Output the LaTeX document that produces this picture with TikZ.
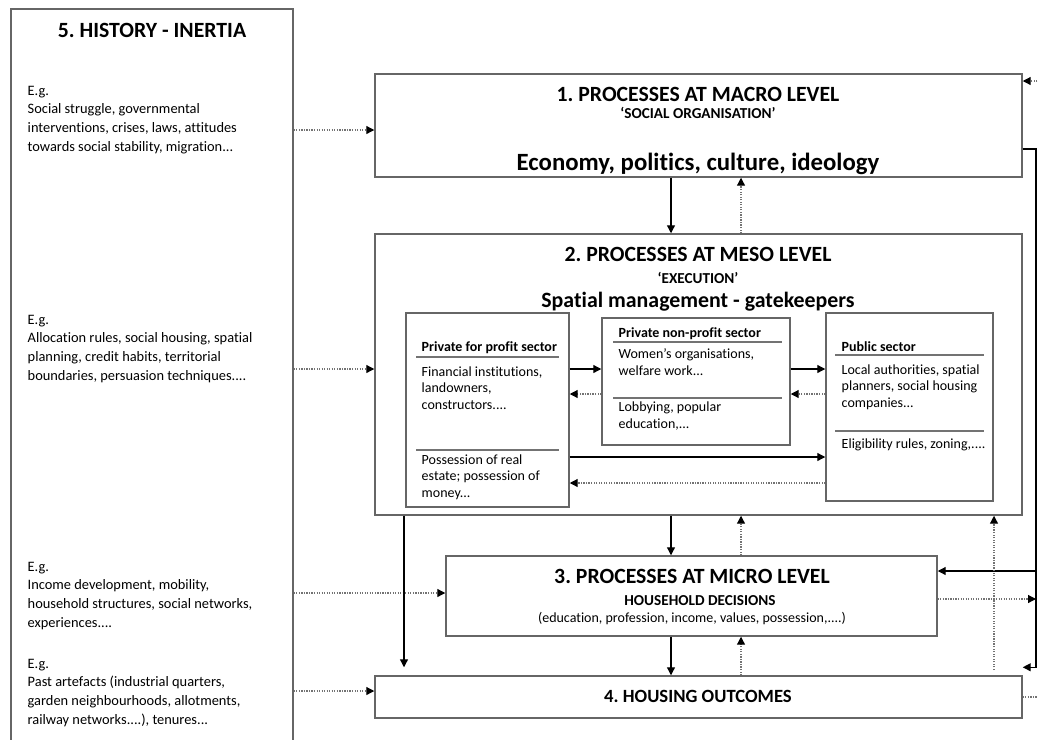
\documentclass[tikz,border=0pt]{standalone}
\usepackage{fontspec}
\setmainfont[Ligatures={TeX,NoCommon}]{Carlito}
\frenchspacing
\usetikzlibrary{arrows.meta,fit,positioning}

\begin{document}
\begin{tikzpicture}[x=0.75pt,y=-0.75pt,
    box/.style={draw=black!60, line width=1.1pt, inner sep=0pt},
    rule/.style={draw=black!55, line width=1.1pt},
    solidarr/.style={draw=black, line width=0.9pt, -{Triangle[length=6pt,width=6pt]}},
    dotarr/.style={draw=black!55, line width=0.9pt, densely dotted, -{Triangle[length=6pt,width=6pt,black]}},
    dotline/.style={draw=black!55, line width=0.9pt, densely dotted},
    head/.style={anchor=base, font=\bfseries\fontsize{16.3}{19}\selectfont},
    sub/.style={anchor=base, font=\bfseries\fontsize{11.4}{13}\selectfont},
    eg/.style={anchor=base west, align=left, font=\fontsize{10.8}{14}\selectfont},
    sechead/.style={anchor=base west, font=\bfseries\fontsize{10.5}{12}\selectfont},
    sectxt/.style={anchor=base west, align=left, font=\fontsize{10.5}{12.2}\selectfont}]
  \useasboundingbox (0,0) rectangle (1038,739);

  % history column (multi-line texts sit on their last line)
  \node[box, fit={(11,9)(293,760)}] (hist) {};
  \node[head] (histT) at (152,37) {5. HISTORY - INERTIA};
  \node[eg] (eg1) at (23,151) {E.g.\\Social struggle, governmental\\interventions, crises, laws, attitudes\\towards social stability, migration...};
  \node[eg] (eg2) at (23,380) {E.g.\\Allocation rules, social housing, spatial\\planning, credit habits, territorial\\boundaries, persuasion techniques....};
  \node[eg] (eg3) at (23,627) {E.g.\\Income development, mobility,\\household structures, social networks,\\experiences....};
  \node[eg] (eg4) at (23,724) {E.g.\\Past artefacts (industrial quarters,\\garden neighbourhoods, allotments,\\railway networks....), tenures...};

  % levels
  \node[box, fit={(375,74)(1022,177)}] (macro) {};
  \node[head] (macroT) at (698,101) {1. PROCESSES AT MACRO LEVEL};
  \node[sub] (macroS) at (698,118) {`SOCIAL ORGANISATION'};
  \node[anchor=base, font=\bfseries\fontsize{18.6}{22}\selectfont] (macroE) at (698,170) {Economy, politics, culture, ideology};

  \node[box, fit={(375,234)(1022,515)}] (meso) {};
  \node[head] (mesoT) at (698,261) {2. PROCESSES AT MESO LEVEL};
  \node[sub] (mesoS) at (698,283) {`EXECUTION'};
  \node[anchor=base, font=\bfseries\fontsize{16.4}{19}\selectfont] (mesoE) at (698,307) {Spatial management - gatekeepers};

  \node[box, fit={(446,556)(937,636)}] (micro) {};
  \node[head] (microT) at (692,583) {3. PROCESSES AT MICRO LEVEL};
  \node[sub] (microS) at (700,605) {HOUSEHOLD DECISIONS};
  \node[anchor=base, font=\fontsize{10.5}{12}\selectfont] (microE) at (692,622) {(education, profession, income, values, possession,....)};

  \node[box, fit={(375,676)(1022,718)}] (housing) {};
  \node[anchor=base, font=\bfseries\fontsize{14}{17}\selectfont] (housingT) at (698,702) {4. HOUSING OUTCOMES};

  % sectors
  \node[box, fit={(406,313)(569,507)}] (pfp) {};
  \draw[rule] (416,357) -- (559,357);
  \draw[rule] (416,450) -- (559,450);
  \node[sechead] (pfpH) at (417,351) {Private for profit sector};
  \node[sectxt] (pfpA) at (417,409) {Financial institutions,\\landowners,\\constructors....};
  \node[sectxt] (pfpB) at (417,497) {Possession of real\\estate; possession of\\money...};

  \node[box, fit={(602,318)(790,445)}] (pnp) {};
  \draw[rule] (613,342) -- (782,342);
  \draw[rule] (613,398) -- (782,398);
  \node[sechead] (pnpH) at (614,337) {Private non-profit sector};
  \node[sectxt] (pnpA) at (614,375) {Women's organisations,\\welfare work...};
  \node[sectxt] (pnpB) at (614,428) {Lobbying, popular\\education,...};

  \node[box, fit={(826,313)(993,501)}] (pub) {};
  \draw[rule] (835,355) -- (984,355);
  \draw[rule] (835,431) -- (984,431);
  \node[sechead] (pubH) at (837,351) {Public sector};
  \node[sectxt] (pubA) at (837,407) {Local authorities, spatial\\planners, social housing\\companies...};
  \node[sectxt] (pubB) at (837,448) {Eligibility rules, zoning,....};

  % helper levels
  \coordinate (h1) at (0,130);
  \coordinate (ya) at (0,369);
  \coordinate (yb) at (0,394);
  \coordinate (yc) at (0,457);
  \coordinate (yd) at (0,483);
  \coordinate (h3) at (0,593);
  \coordinate (h4) at (0,691);
  \coordinate (cdown) at (671,0);
  \coordinate (cup) at (741,0);
  \coordinate (lx) at (404,0);
  \coordinate (rail) at (1036,149);
  \coordinate (r3) at (0,571);
  \coordinate (r4) at (0,599);
  \coordinate (intop) at (1040,81);
  \coordinate (pubup) at (994,670);

  % history inputs
  \draw[dotarr] (hist.east |- h1) -- (macro.west |- h1);
  \draw[dotarr] (hist.east |- ya) -- (meso.west |- ya);
  \draw[dotarr] (hist.east |- h3) -- (micro.west |- h3);
  \draw[dotarr] (hist.east |- h4) -- (housing.west |- h4);

  % between levels
  \draw[solidarr] (macro.south -| cdown) -- (meso.north -| cdown);
  \draw[dotarr] (meso.north -| cup) -- (macro.south -| cup);
  \draw[solidarr] (meso.south -| cdown) -- (micro.north -| cdown);
  \draw[dotarr] (micro.north -| cup) -- (meso.south -| cup);
  \draw[solidarr] (micro.south -| cdown) -- (housing.north -| cdown);
  \draw[dotarr] (housing.north -| cup) -- (micro.south -| cup);
  \draw[solidarr] (meso.south -| lx) -- ([yshift=6pt]housing.north -| lx);

  % between sectors
  \draw[solidarr] (pfp.east |- ya) -- (pnp.west |- ya);
  \draw[dotarr] (pnp.west |- yb) -- (pfp.east |- yb);
  \draw[solidarr] (pnp.east |- ya) -- (pub.west |- ya);
  \draw[dotarr] (pub.west |- yb) -- (pnp.east |- yb);
  \draw[solidarr] (pfp.east |- yc) -- (pub.west |- yc);
  \draw[dotarr] (pub.west |- yd) -- (pfp.east |- yd);

  % right side feedback
  \draw[solidarr] (macro.east |- rail) -- (rail) |- ([yshift=6pt]housing.north east);
  \draw[solidarr] (rail |- r3) -- (micro.east |- r3);
  \draw[dotarr] (micro.east |- r4) -- (rail |- r4);
  \draw[dotarr] (intop) -- (macro.east |- intop);
  \draw[dotline] (housing.east) -- (housing.east -| intop);
  \draw[dotarr] (pubup) -- (meso.south -| pubup);
\end{tikzpicture}
\end{document}
